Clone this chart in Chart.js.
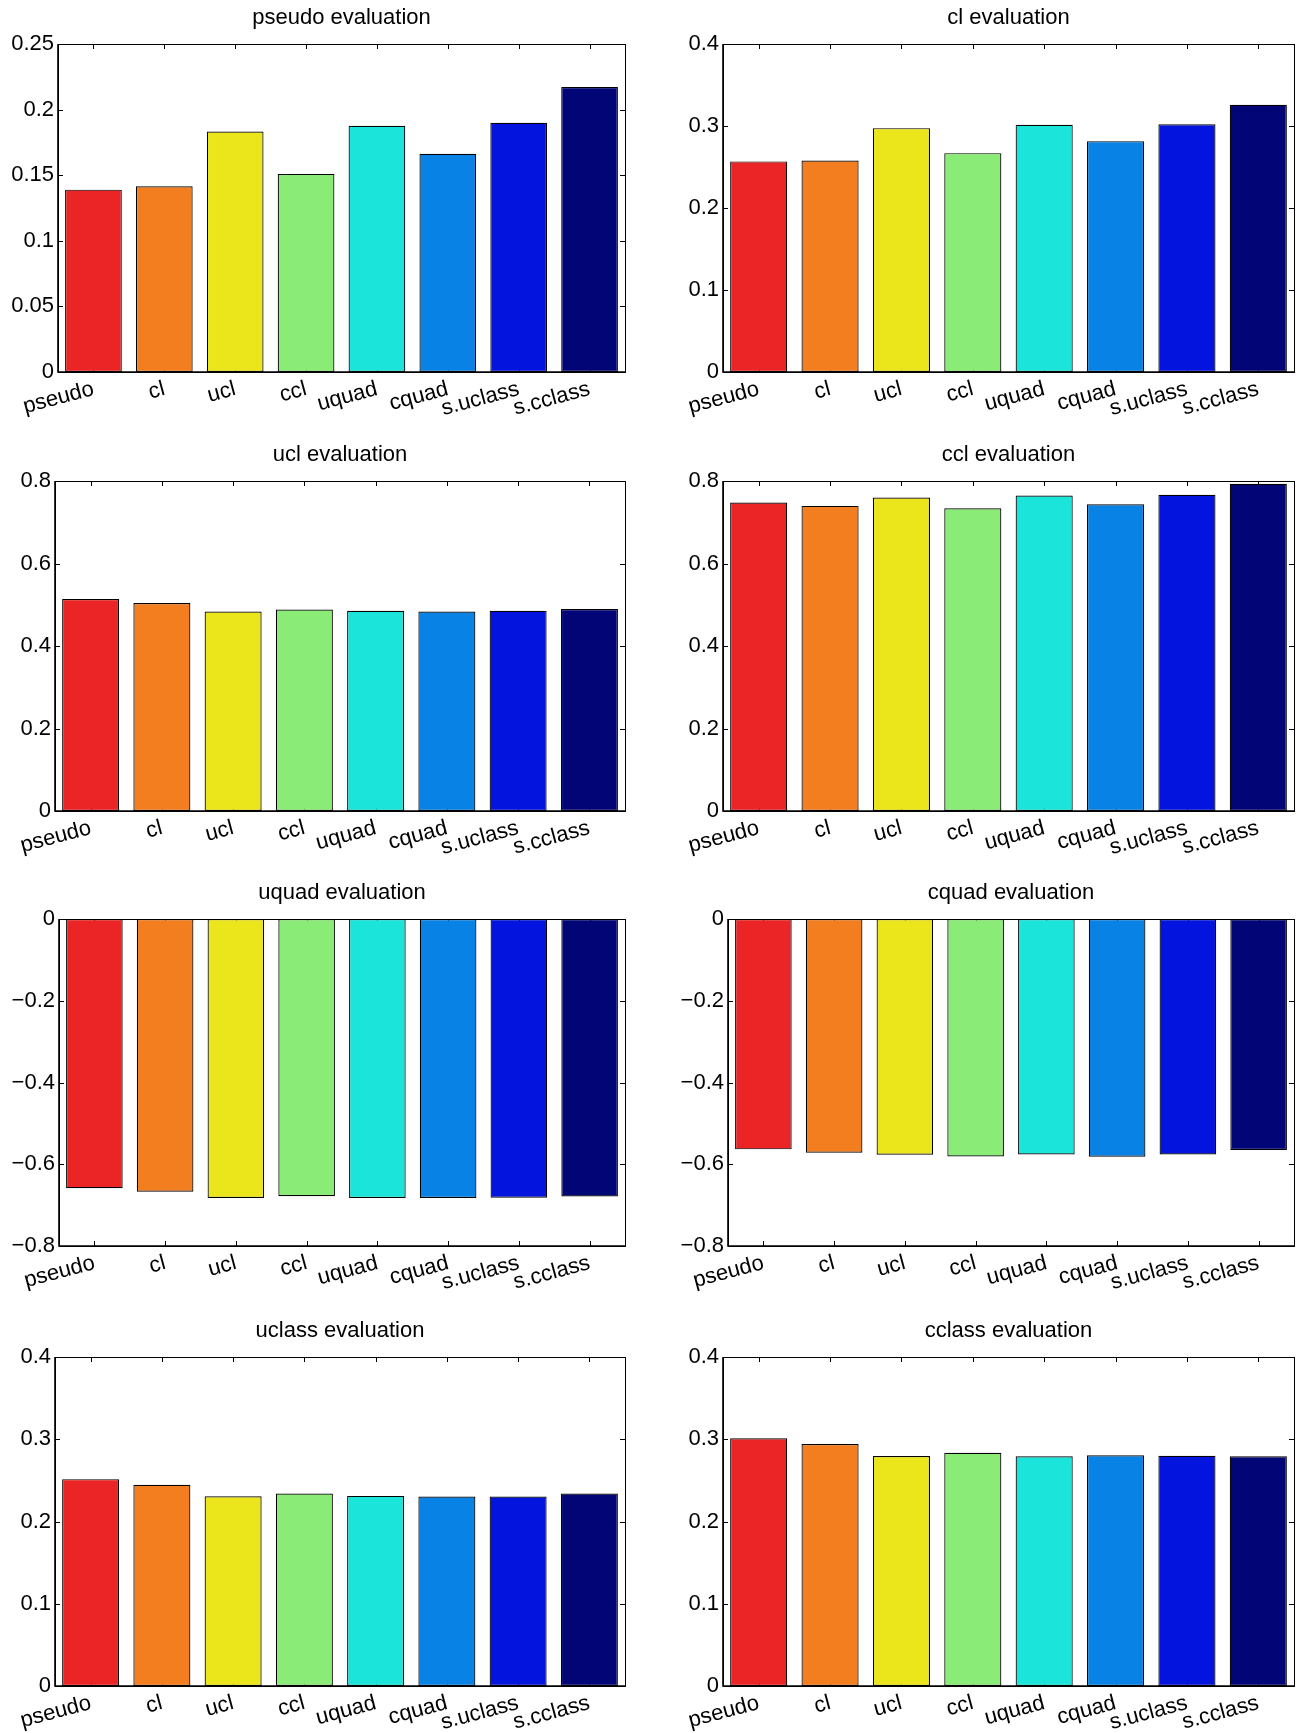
<!DOCTYPE html>
<html>
<head>
<meta charset="utf-8">
<title>evaluation bars</title>
<script src="https://cdn.jsdelivr.net/npm/chart.js@4.4.1/dist/chart.umd.min.js"></script>
<style>
  html, body { margin: 0; padding: 0; background: #fff; overflow: hidden; }
  #page { position: relative; width: 1299px; height: 1733px; }
  #page canvas { position: absolute; }
</style>
</head>
<body>
<div id="page"></div>
<script>
/* ── Data ─────────────────────────────────────────────────────────────── */
const categories = ['pseudo', 'cl', 'ucl', 'ccl', 'uquad', 'cquad', 's.uclass', 's.cclass'];

const pseudoEval = [0.139, 0.1415, 0.1833, 0.151, 0.1877, 0.1664, 0.190, 0.2172];
const clEval     = [0.2568, 0.258, 0.2974, 0.2669, 0.3014, 0.2815, 0.3022, 0.3258];
const uclEval    = [0.5138, 0.504, 0.4837, 0.4886, 0.4854, 0.4837, 0.4854, 0.4894];
const cclEval    = [0.7478, 0.7396, 0.760, 0.734, 0.765, 0.7437, 0.7665, 0.7933];
const uquadEval  = [-0.6588, -0.667, -0.6825, -0.6784, -0.6825, -0.6825, -0.6817, -0.679];
const cquadEval  = [-0.5636, -0.5718, -0.5767, -0.5808, -0.5759, -0.5816, -0.5759, -0.5652];
const uclassEval = [0.2515, 0.2446, 0.2307, 0.234, 0.2311, 0.2303, 0.2303, 0.234];
const cclassEval = [0.3011, 0.2942, 0.2796, 0.2836, 0.2792, 0.2804, 0.280, 0.2792];

// y axis ranges: [min, max, step]
const rangePseudo = [0, 0.25, 0.05];
const rangeCl     = [0, 0.4, 0.1];
const rangeUcl    = [0, 0.8, 0.2];
const rangeCcl    = [0, 0.8, 0.2];
const rangeQuad   = [-0.8, 0, 0.2];
const rangeClass  = [0, 0.4, 0.1];

/* ── Panels ───────────────────────────────────────────────────────────── */
const panels = [
  { title: 'pseudo evaluation', values: pseudoEval, range: rangePseudo },
  { title: 'cl evaluation',     values: clEval,     range: rangeCl },
  { title: 'ucl evaluation',    values: uclEval,    range: rangeUcl },
  { title: 'ccl evaluation',    values: cclEval,    range: rangeCcl },
  { title: 'uquad evaluation',  values: uquadEval,  range: rangeQuad },
  { title: 'cquad evaluation',  values: cquadEval,  range: rangeQuad },
  { title: 'uclass evaluation', values: uclassEval, range: rangeClass },
  { title: 'cclass evaluation', values: cclassEval, range: rangeClass },
];

// plot boxes in page pixels: [left, top, right, bottom]
const plotBoxes = [
  [58, 44, 625, 372],   [723, 44, 1294, 372],
  [55, 481, 625, 811],  [723, 481, 1294, 811],
  [59, 919, 625, 1246], [728, 919, 1294, 1246],
  [55, 1357, 625, 1686], [723, 1357, 1294, 1686],
];

/* ── Style ────────────────────────────────────────────────────────────── */
const barColors = ['#EB2525', '#F27E20', '#EBE51B', '#8AEB76',
                   '#1BE4DA', '#0882E4', '#0314DE', '#020576'];
const FONT    = '"Liberation Sans", Arial, Helvetica, sans-serif';
const SIZE    = 22;
const TITLE_H = 39;   // 22 * 1.2 + 12.6
const Y_W     = 60;
const X_H     = 60;
const TICK    = 5;

/* ── MATLAB-like box with inward ticks ────────────────────────────────── */
const boxPlugin = {
  id: 'matlabBox',
  beforeDatasetsDraw(chart) {
    const { ctx, chartArea: a, scales: { x, y } } = chart;
    ctx.save();
    ctx.strokeStyle = '#000';
    ctx.lineWidth = 1;
    ctx.beginPath();
    y.ticks.forEach(t => {
      const py = Math.round(y.getPixelForValue(t.value)) + 0.5;
      ctx.moveTo(a.left, py);  ctx.lineTo(a.left + TICK, py);
      ctx.moveTo(a.right, py); ctx.lineTo(a.right - TICK, py);
    });
    x.ticks.forEach((t, i) => {
      const px = Math.round(x.getPixelForTick(i)) + 0.5;
      ctx.moveTo(px, a.top);    ctx.lineTo(px, a.top + TICK);
      ctx.moveTo(px, a.bottom); ctx.lineTo(px, a.bottom - TICK);
    });
    ctx.stroke();
    ctx.restore();
  },
  afterDatasetsDraw(chart) {
    const { ctx, chartArea: a } = chart;
    ctx.save();
    ctx.strokeStyle = '#000';
    ctx.lineWidth = 1;
    ctx.strokeRect(Math.round(a.left) + 0.5, Math.round(a.top) + 0.5,
                   Math.round(a.right - a.left), Math.round(a.bottom - a.top));
    ctx.lineWidth = 1.6;
    ctx.beginPath();
    ctx.moveTo(Math.round(a.left), Math.round(a.top));
    ctx.lineTo(Math.round(a.left), Math.round(a.bottom));
    ctx.lineTo(Math.round(a.right), Math.round(a.bottom));
    ctx.stroke();
    ctx.restore();
  },
};

function fmtTick(v) {
  const r = Math.round(Math.abs(v) * 100) / 100;
  return (v < -1e-9 ? '\u2212' : '') + r;
}

/* ── Build charts ─────────────────────────────────────────────────────── */
const page = document.getElementById('page');

panels.forEach((p, i) => {
  const [L, T, R, B] = plotBoxes[i];
  const cv = document.createElement('canvas');
  cv.width  = (R - L) + 2 * Y_W;
  cv.height = TITLE_H + (B - T) + X_H;
  cv.style.left = (L - Y_W) + 'px';
  cv.style.top  = (T - TITLE_H) + 'px';
  cv.style.width  = cv.width + 'px';
  cv.style.height = cv.height + 'px';
  page.appendChild(cv);

  new Chart(cv.getContext('2d'), {
    type: 'bar',
    data: {
      labels: categories,
      datasets: [{
        data: p.values,
        backgroundColor: barColors,
        borderColor: '#000',
        borderWidth: 1.2,
        borderSkipped: false,
        barPercentage: 0.8,
        categoryPercentage: 1.0,
      }],
    },
    options: {
      responsive: false,
      animation: false,
      devicePixelRatio: 1,
      layout: { padding: 0 },
      plugins: {
        legend: { display: false },
        tooltip: { enabled: false },
        title: {
          display: true,
          text: p.title,
          color: '#000',
          font: { family: FONT, size: SIZE, weight: 'normal', lineHeight: 1.2 },
          padding: { top: 0, bottom: 12.6 },
        },
      },
      scales: {
        x: {
          type: 'category',
          offset: true,
          grid:   { display: false, drawTicks: false },
          border: { display: false },
          ticks: {
            color: '#000',
            font: { family: FONT, size: SIZE },
            minRotation: 15,
            maxRotation: 15,
            autoSkip: false,
            padding: 4,
          },
          afterFit: s => { s.height = X_H; },
        },
        y: {
          position: 'left',
          min: p.range[0],
          max: p.range[1],
          grid:   { display: false, drawTicks: false },
          border: { display: false },
          ticks: {
            stepSize: p.range[2],
            color: '#000',
            font: { family: FONT, size: SIZE },
            padding: 4,
            callback: v => fmtTick(v),
          },
          afterFit: s => { s.width = Y_W; },
        },
        // empty right-hand strip so the title centres over the plot box
        yRight: {
          position: 'right',
          display: true,
          grid:   { display: false, drawTicks: false },
          border: { display: false },
          ticks:  { display: false },
          afterFit: s => { s.width = Y_W; },
        },
      },
    },
    plugins: [boxPlugin],
  });
});
</script>
</body>
</html>
